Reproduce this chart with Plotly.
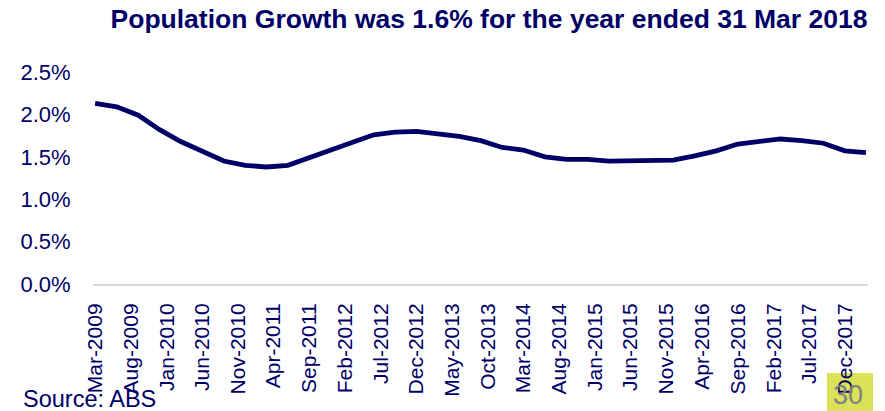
import plotly.graph_objects as go

quarters = [
    "2009-03-01", "2009-06-01", "2009-09-01", "2009-12-01",
    "2010-03-01", "2010-06-01", "2010-09-01", "2010-12-01",
    "2011-03-01", "2011-06-01", "2011-09-01", "2011-12-01",
    "2012-03-01", "2012-06-01", "2012-09-01", "2012-12-01",
    "2013-03-01", "2013-06-01", "2013-09-01", "2013-12-01",
    "2014-03-01", "2014-06-01", "2014-09-01", "2014-12-01",
    "2015-03-01", "2015-06-01", "2015-09-01", "2015-12-01",
    "2016-03-01", "2016-06-01", "2016-09-01", "2016-12-01",
    "2017-03-01", "2017-06-01", "2017-09-01", "2017-12-01",
    "2018-03-01",
]
growth_pct = [
    2.13, 2.09, 1.99, 1.82,
    1.68, 1.57, 1.45, 1.40,
    1.38, 1.40, 1.49, 1.58,
    1.67, 1.76, 1.79, 1.80,
    1.77, 1.74, 1.69, 1.61,
    1.58, 1.50, 1.47, 1.47,
    1.45, 1.45, 1.45, 1.46,
    1.51, 1.57, 1.65, 1.68,
    1.71, 1.69, 1.66, 1.57,
    1.55,
]
y_ticks = [0.0, 0.5, 1.0, 1.5, 2.0, 2.5]
y_tick_labels = ["0.0%", "0.5%", "1.0%", "1.5%", "2.0%", "2.5%"]

title_text = "Population Growth was 1.6% for the year ended 31 Mar 2018"
source_text = "Source: ABS"
page_number = "30"

NAVY = "#000066"
FONT = "Arial, Liberation Sans, sans-serif"

W, H = 885, 411
L, R, T, B = 93, 17, 72, 127
pw = W - L - R
ph = H - T - B

fig = go.Figure()
fig.add_trace(go.Scatter(
    x=quarters, y=growth_pct, mode="lines",
    line=dict(color=NAVY, width=4.8),
    hoverinfo="x+y",
))

def px_x(p):
    return (p - L) / pw

def px_y(p):
    return (H - B - p) / ph

fig.update_layout(
    width=W, height=H,
    margin=dict(l=L, r=R, t=T, b=B),
    paper_bgcolor="white", plot_bgcolor="white",
    showlegend=False,
    font=dict(family=FONT, color=NAVY),
    title=dict(
        text="<b>" + title_text + "</b>",
        font=dict(family=FONT, size=26.5, color=NAVY),
        xref="container", yref="container",
        x=489 / W, xanchor="center",
        y=1 - 19 / H, yanchor="middle",
    ),
    xaxis=dict(
        type="date",
        range=["2009-02-20", "2018-03-10"],
        tick0="2009-03-01", dtick="M5",
        tickformat="%b-%Y",
        tickangle=-90,
        tickfont=dict(family=FONT, size=21, color=NAVY),
        showgrid=False, zeroline=False,
        showline=True, linecolor="#d9d9d9", linewidth=2,
        ticks="outside", ticklen=9, tickcolor="rgba(0,0,0,0)",
    ),
    yaxis=dict(
        range=[0, 2.5],
        tickvals=y_ticks, ticktext=y_tick_labels,
        tickfont=dict(family=FONT, size=22, color=NAVY),
        showgrid=False, zeroline=False, showline=False,
        ticks="outside", ticklen=17, tickcolor="rgba(0,0,0,0)",
    ),
    shapes=[dict(
        type="rect", xref="paper", yref="paper", layer="below",
        x0=px_x(827), x1=px_x(873), y0=px_y(411), y1=px_y(373),
        fillcolor="#dbe159", line=dict(width=0),
    )],
    annotations=[
        dict(text=source_text, xref="paper", yref="paper",
             x=px_x(21), y=px_y(399), xanchor="left", yanchor="middle",
             showarrow=False, font=dict(family=FONT, size=23.5, color=NAVY)),
        dict(text=page_number, xref="paper", yref="paper",
             x=px_x(848), y=px_y(395), xanchor="center", yanchor="middle",
             showarrow=False, font=dict(family=FONT, size=27, color="#808080")),
    ],
)

fig.write_html("out.html")
